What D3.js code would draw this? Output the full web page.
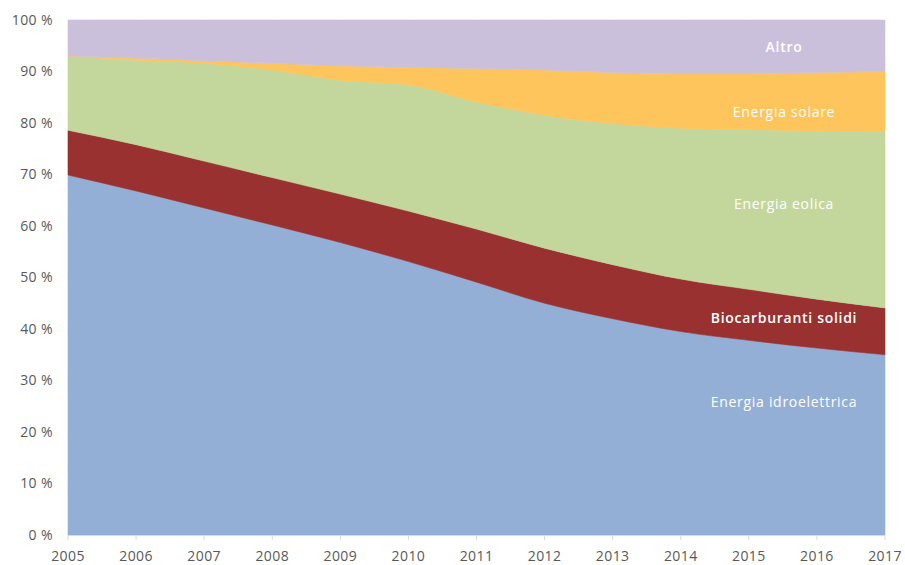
<!DOCTYPE html>
<html>
<head>
<meta charset="utf-8">
<script src="https://cdn.jsdelivr.net/npm/d3@7"></script>
<style>
  body { margin: 0; background: #fff; }
  .tick-label { font-family: "Open Sans", sans-serif; font-size: 14px; letter-spacing: 0.4px; fill: #595959; }
  .area-label { font-family: "Open Sans", sans-serif; font-size: 14px; letter-spacing: 0.7px; fill: #fff; }
</style>
</head>
<body>
<div id="chart"></div>
<script>
// data, shares in percent
var years = [2005, 2006, 2007, 2008, 2009, 2010, 2011, 2012, 2013, 2014, 2015, 2016, 2017];
var idroelettrica = [69.9, 66.8, 63.5, 60.2, 56.8, 53.1, 49.1, 45.0, 42.0, 39.5, 37.8, 36.3, 35.0];
var biocarburanti = [8.7, 9.0, 9.1, 9.2, 9.4, 9.8, 10.3, 10.7, 10.5, 10.2, 9.9, 9.5, 9.1];
var eolica = [14.3, 16.4, 19.0, 20.9, 22.1, 24.5, 24.7, 25.8, 27.4, 29.3, 31.0, 32.7, 34.2];
var solare = [0.1, 0.4, 0.5, 1.3, 2.8, 3.4, 6.5, 8.8, 9.9, 10.6, 10.9, 11.3, 11.7];
var altro = [7.0, 7.4, 7.9, 8.4, 8.9, 9.2, 9.4, 9.7, 10.2, 10.4, 10.4, 10.2, 10.0];
var yTicks = [0, 10, 20, 30, 40, 50, 60, 70, 80, 90, 100];

var series_keys = ["idro", "bio", "eolica", "solare", "altro"];
var series_names = {
  idro: "Energia idroelettrica",
  bio: "Biocarburanti solidi",
  eolica: "Energia eolica",
  solare: "Energia solare",
  altro: "Altro"
};
var colors = {
  idro: "#93afd6",
  bio: "#993130",
  eolica: "#c3d79c",
  solare: "#fdc55b",
  altro: "#cbc0dc"
};

var rows = years.map(function(y, i){
  return { year: y, idro: idroelettrica[i], bio: biocarburanti[i], eolica: eolica[i], solare: solare[i], altro: altro[i] };
});

var width = 905, height = 565,
  margin = {top: 20, right: 20, bottom: 30, left: 68};

var svg = d3.select("#chart").append("svg")
    .attr("width", width)
    .attr("height", height);

var x = d3.scaleLinear()
  .domain([years[0], years[years.length - 1]])
  .range([margin.left, 885]);

var y = d3.scaleLinear()
  .domain([0, 100])
  .range([535, margin.top])
  .clamp(true);

var stack = d3.stack().keys(series_keys);
var layers = stack(rows);

var area = d3.area()
  .curve(d3.curveMonotoneX)
  .x(function(d){ return x(d.data.year); })
  .y0(function(d){ return y(d[0]); })
  .y1(function(d){ return y(d[1]); });

svg.selectAll(".layer")
    .data(layers)
  .enter().append("path")
    .attr("class", "layer")
    .attr("fill", function(d){ return colors[d.key]; })
    .attr("stroke", function(d){ return colors[d.key]; })
    .attr("stroke-width", 0.6)
    .attr("d", area);

// y axis labels
svg.selectAll(".y-label")
    .data(yTicks)
  .enter().append("text")
    .attr("class", "tick-label y-label")
    .attr("x", 53)
    .attr("y", function(d){ return y(d); })
    .attr("dy", "0.35em")
    .attr("text-anchor", "end")
    .text(function(d){ return d + " %"; });

// x axis
svg.append("line")
    .attr("x1", x(years[0]))
    .attr("x2", x(years[years.length - 1]))
    .attr("y1", y(0) + 0.5)
    .attr("y2", y(0) + 0.5)
    .attr("stroke", "#d9d9d9");

svg.selectAll(".x-tick")
    .data(years)
  .enter().append("line")
    .attr("class", "x-tick")
    .attr("x1", function(d){ return x(d); })
    .attr("x2", function(d){ return x(d); })
    .attr("y1", y(0))
    .attr("y2", y(0) + 5)
    .attr("stroke", "#d9d9d9");

svg.selectAll(".x-label")
    .data(years)
  .enter().append("text")
    .attr("class", "tick-label x-label")
    .attr("x", function(d){ return x(d); })
    .attr("y", 556)
    .attr("dy", "0.35em")
    .attr("text-anchor", "middle")
    .text(function(d){ return d; });

// area labels, placed near the right end of each band
var label_pos = [
  {key: "altro", y: 47, bold: true},
  {key: "solare", y: 112, bold: false},
  {key: "eolica", y: 204, bold: false},
  {key: "bio", y: 318, bold: true},
  {key: "idro", y: 402, bold: false}
];

svg.selectAll(".area-label")
    .data(label_pos)
  .enter().append("text")
    .attr("class", "area-label")
    .attr("x", 784)
    .attr("y", function(d){ return d.y; })
    .attr("dy", "0.35em")
    .attr("text-anchor", "middle")
    .attr("font-weight", function(d){ return d.bold ? 600 : 400; })
    .text(function(d){ return series_names[d.key]; });
</script>
</body>
</html>
